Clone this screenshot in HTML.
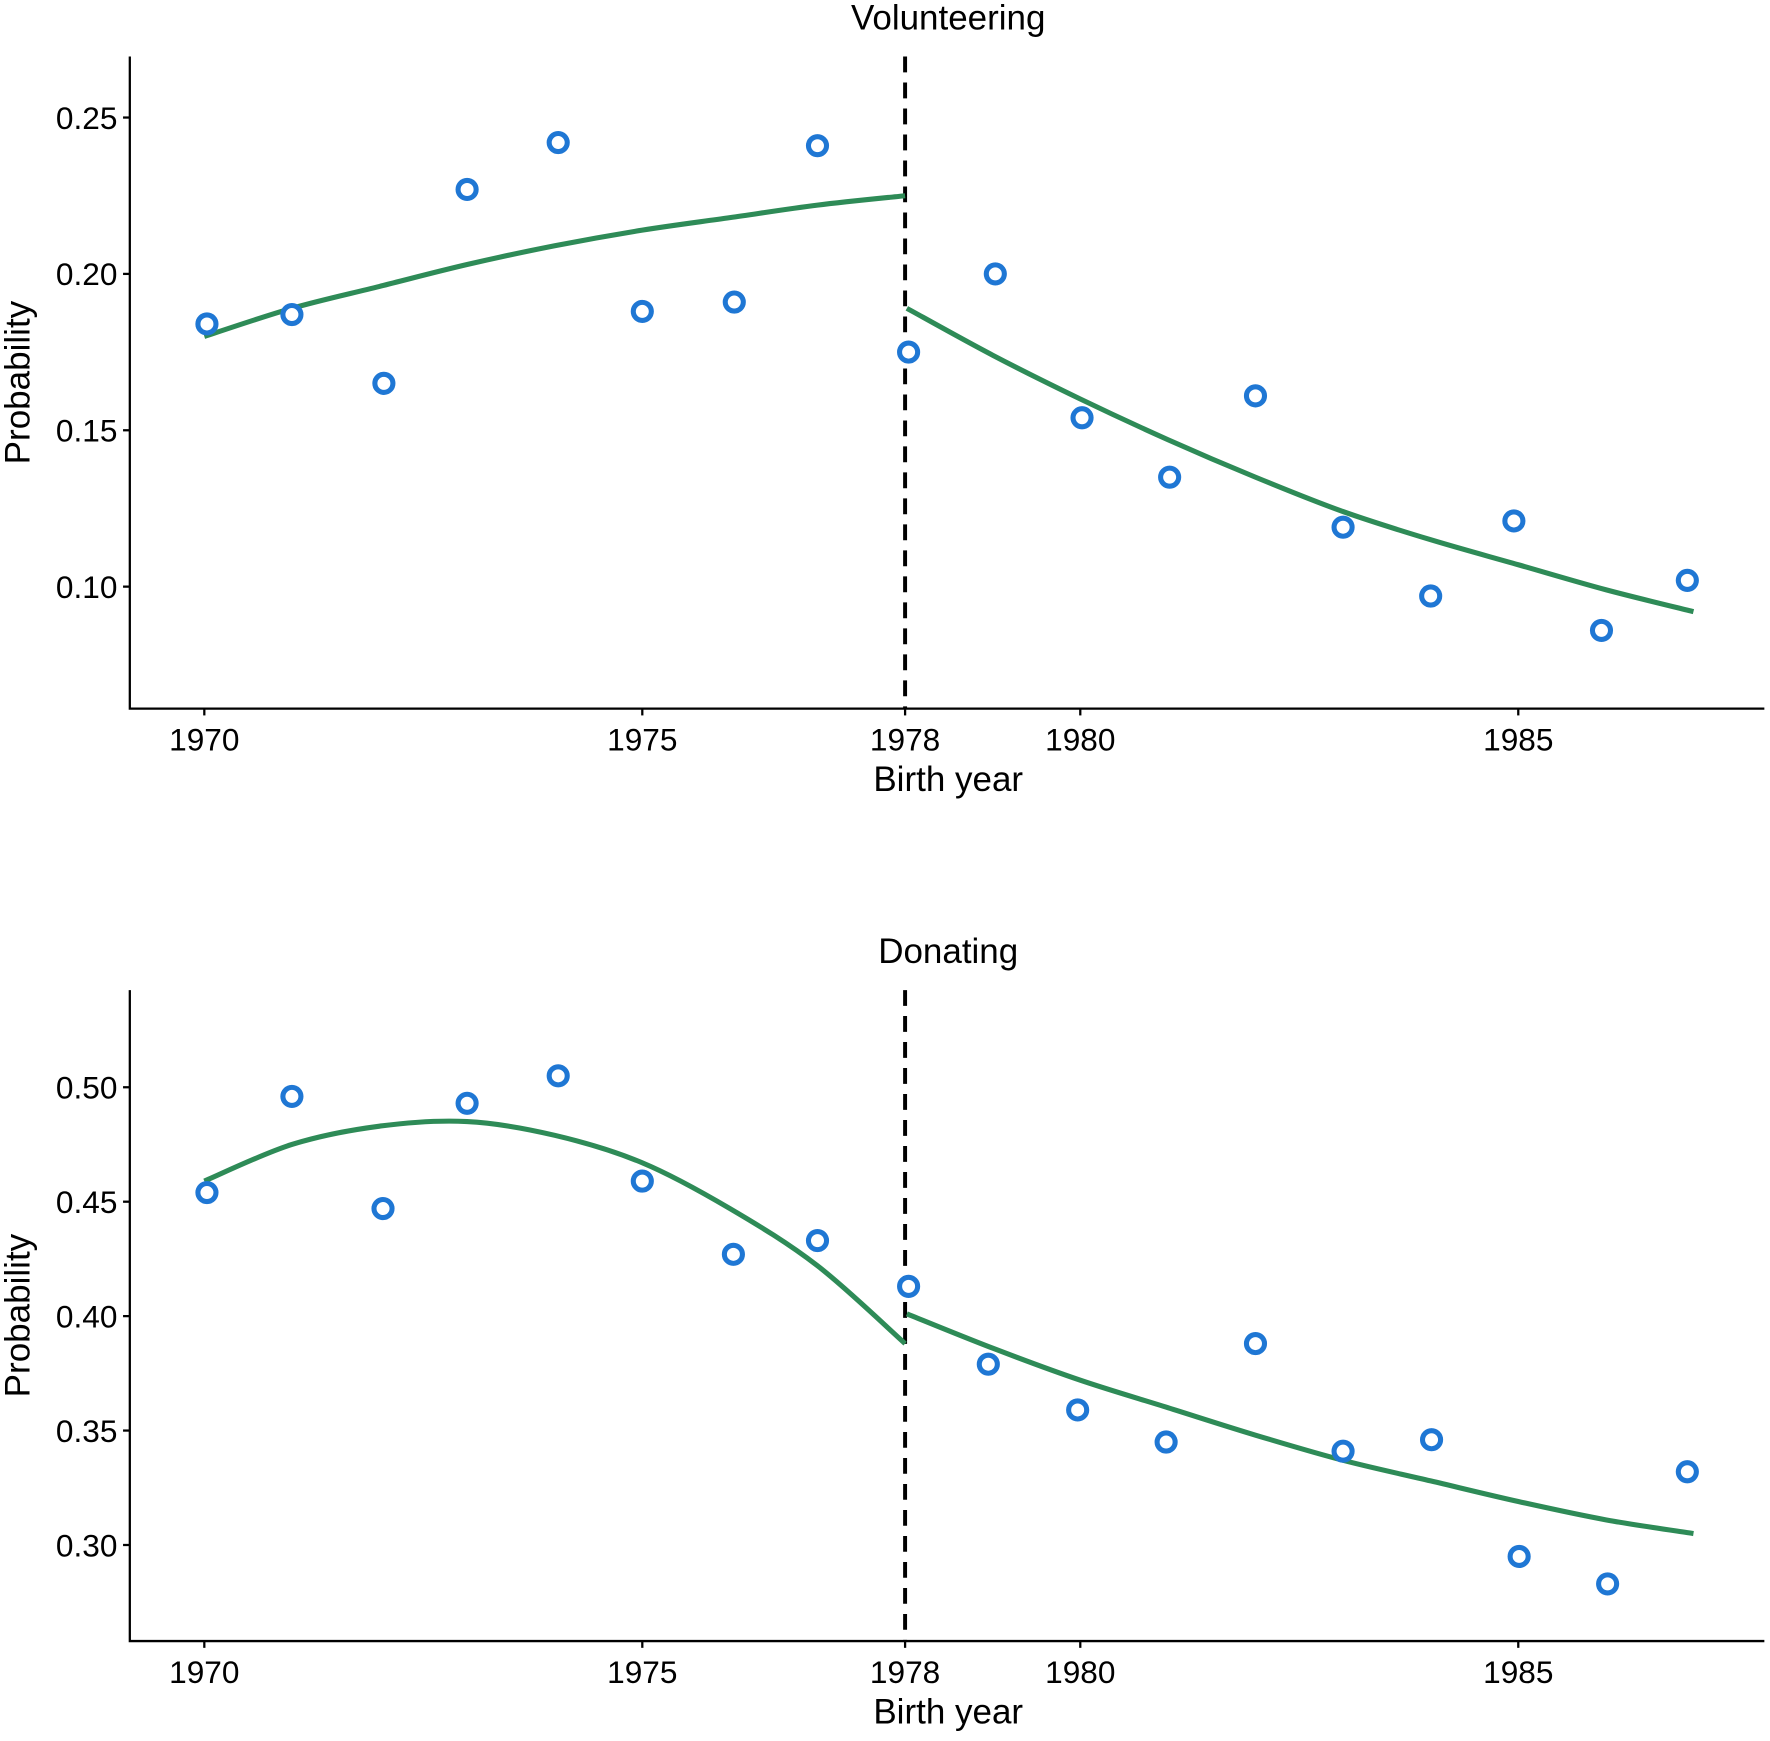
<!DOCTYPE html>
<html><head><meta charset="utf-8"><style>
html,body{margin:0;padding:0;background:#fff;}
svg text{font-family:"Liberation Sans",Arial,sans-serif;fill:#000;}
</style></head><body>
<svg id="chart" width="1770" height="1736" viewBox="0 0 1568 1536" preserveAspectRatio="none" xmlns="http://www.w3.org/2000/svg"></svg>
<script>
const xTicks = [1970, 1975, 1978, 1980, 1985];
const volTicks = [0.10, 0.15, 0.20, 0.25];
const donTicks = [0.30, 0.35, 0.40, 0.45, 0.50];
const volYears = [1970.03,1971,1972.05,1973,1974.04,1975,1976.05,1977,1978.04,1979.03,1980.02,1981.02,1982,1983,1984,1984.95,1985.95,1986.93];
const volValues = [0.184,0.187,0.165,0.227,0.242,0.188,0.191,0.241,0.175,0.200,0.154,0.135,0.161,0.119,0.097,0.121,0.086,0.102];
const volFitLeftYears = [1970,1971,1972,1973,1974,1975,1976,1977,1978];
const volFitLeft = [0.180,0.189,0.196,0.203,0.209,0.214,0.218,0.222,0.225];
const volFitRightYears = [1978.02,1979,1980,1981,1982,1983,1984,1985,1986,1987.0];
const volFitRight = [0.189,0.174,0.160,0.147,0.135,0.124,0.115,0.107,0.099,0.092];
const donYears = [1970.03,1971,1972.04,1973,1974.04,1975,1976.04,1977,1978.04,1978.95,1979.97,1980.98,1982,1983,1984.01,1985.01,1986.02,1986.93];
const donValues = [0.454,0.496,0.447,0.493,0.505,0.459,0.427,0.433,0.413,0.379,0.359,0.345,0.388,0.341,0.346,0.295,0.283,0.332];
const donFitLeftYears = [1970,1971,1972,1973,1974,1975,1976,1977,1978];
const donFitLeft = [0.459,0.475,0.483,0.485,0.479,0.467,0.447,0.422,0.388];
const donFitRightYears = [1978.02,1979,1980,1981,1982,1983,1984,1985,1986,1987.0];
const donFitRight = [0.401,0.386,0.372,0.360,0.348,0.337,0.328,0.319,0.311,0.305];

const NS="http://www.w3.org/2000/svg";
const svg=document.getElementById('chart');
function mk(tag,attrs,parent){const e=document.createElementNS(NS,tag);for(const k in attrs)e.setAttribute(k,attrs[k]);(parent||svg).appendChild(e);return e;}
function xs(yr){return 181+(yr-1970)*77.6;}
function smooth(pts){let d='M'+pts[0][0]+','+pts[0][1];for(let i=0;i<pts.length-1;i++){const p0=pts[i-1]||pts[i],p1=pts[i],p2=pts[i+1],p3=pts[i+2]||p2;const c1=[p1[0]+(p2[0]-p0[0])/6,p1[1]+(p2[1]-p0[1])/6],c2=[p2[0]-(p3[0]-p1[0])/6,p2[1]-(p3[1]-p1[1])/6];d+=' C'+c1+' '+c2+' '+p2;}return d;}

function panel(cfg){
  const g=mk('g',{});
  
  
  const ys=v=>cfg.y0+(cfg.v0-v)*cfg.k;
  const t=mk('text',{x:840,y:cfg.titleY,'text-anchor':'middle','font-size':31},g);t.textContent=cfg.title;
  
  const ax=mk('path',{d:`M115,${cfg.top} V${cfg.bottom} H1563`,stroke:'#000','stroke-width':2,fill:'none'},g);
  
  cfg.ticks.forEach(v=>{const y=ys(v);mk('line',{x1:109,x2:115,y1:y,y2:y,stroke:'#000','stroke-width':2},g);
    const l=mk('text',{x:104,y:y+10,'text-anchor':'end','font-size':28},g);l.textContent=v.toFixed(2);
    });
  xTicks.forEach(yr=>{const x=xs(yr);mk('line',{x1:x,x2:x,y1:cfg.bottom,y2:cfg.bottom+6,stroke:'#000','stroke-width':2},g);
    const l=mk('text',{x:x,y:cfg.bottom+37,'text-anchor':'middle','font-size':28},g);l.textContent=yr;
    });
  const xt=mk('text',{x:840,y:cfg.bottom+73,'text-anchor':'middle','font-size':31},g);xt.textContent='Birth year';
  
  const cy=(cfg.top+cfg.bottom)/2;
  const yt=mk('text',{x:0,y:0,'text-anchor':'middle','font-size':31,transform:`translate(26,${cy}) rotate(-90)`},g);yt.textContent='Probability';
  
  const cut=mk('line',{x1:xs(1978),x2:xs(1978),y1:cfg.top,y2:cfg.bottom,stroke:'#000','stroke-width':3.5,'stroke-dasharray':'14,9'},g);
  
  [[cfg.lx,cfg.ly],[cfg.rx,cfg.ry]].forEach(([X,Y],i)=>{
    const p=mk('path',{d:smooth(X.map((yr,j)=>[xs(yr),ys(Y[j])])),stroke:'#2e8b57','stroke-width':4.5,fill:'none'},g);
    });
  cfg.px.forEach((yr,i)=>{const c=mk('circle',{cx:xs(yr),cy:ys(cfg.py[i]),r:8,fill:'#fff',stroke:'#1f77d4','stroke-width':4.5},g);
    });
}
panel({name:'volunteering-panel',title:'Volunteering',titleY:26,top:50,bottom:627,y0:104,v0:0.25,k:2767,ticks:volTicks,
  px:volYears,py:volValues,lx:volFitLeftYears,ly:volFitLeft,rx:volFitRightYears,ry:volFitRight});
panel({name:'donating-panel',title:'Donating',titleY:852,top:876,bottom:1452,y0:962,v0:0.50,k:2025,ticks:donTicks,
  px:donYears,py:donValues,lx:donFitLeftYears,ly:donFitLeft,rx:donFitRightYears,ry:donFitRight});
</script>
</body></html>
